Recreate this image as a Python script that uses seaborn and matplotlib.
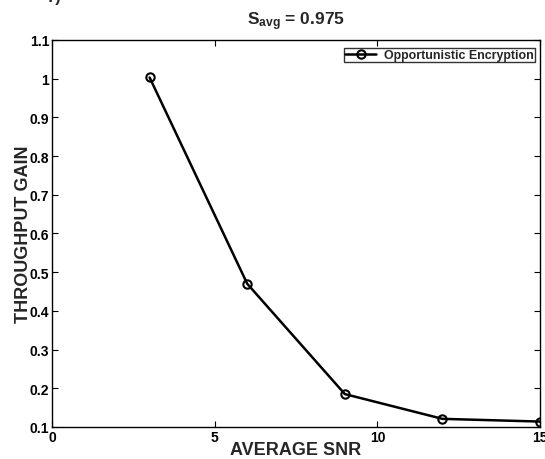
import matplotlib
matplotlib.use("Agg")
import matplotlib.pyplot as plt
import seaborn as sns
import pandas as pd

snr = [3, 6, 9, 12, 15]
gain = [1.003, 0.47, 0.185, 0.121, 0.114]
series_name = "Opportunistic Encryption"
xticks = [0, 5, 10, 15]
yticks = [0.1, 0.2, 0.3, 0.4, 0.5, 0.6, 0.7, 0.8, 0.9, 1.0, 1.1]
ytick_labels = ["0.1", "0.2", "0.3", "0.4", "0.5", "0.6", "0.7", "0.8", "0.9", "1", "1.1"]

sns.set_style("white")
plt.rcParams["font.family"] = ["Liberation Sans", "DejaVu Sans"]
plt.rcParams["font.weight"] = "bold"
plt.rcParams["mathtext.fontset"] = "custom"
plt.rcParams["mathtext.rm"] = "Liberation Sans:bold"
plt.rcParams["mathtext.it"] = "Liberation Sans:bold"
plt.rcParams["mathtext.bf"] = "Liberation Sans:bold"

df = pd.DataFrame({"snr": snr, "gain": gain, "series": series_name})

fig = plt.figure(figsize=(5.45, 4.6), dpi=100)
ax = fig.add_axes([0.0954, 0.0696, 0.8956, 0.8414])

sns.lineplot(data=df, x="snr", y="gain", hue="series", palette=["black"],
             marker="o", markersize=6, markerfacecolor="none",
             markeredgecolor="black", markeredgewidth=1.5, linewidth=1.8, ax=ax)

ax.set_xlim(0, 15)
ax.set_ylim(0.1, 1.1)
ax.set_xticks(xticks)
ax.set_xticklabels([str(t) for t in xticks], fontsize=10, fontweight="bold")
ax.set_yticks(yticks)
ax.set_yticklabels(ytick_labels, fontsize=10, fontweight="bold")
ax.tick_params(direction="in", length=4, width=0.8, top=True, right=True,
               bottom=True, left=True, pad=2, colors="black")
for s in ax.spines.values():
    s.set_color("black")
    s.set_linewidth(1.0)

ax.set_xlabel("AVERAGE SNR", fontsize=13, fontweight="bold", labelpad=-2)
ax.set_ylabel("THROUGHPUT GAIN", fontsize=13, fontweight="bold", labelpad=-2)
ax.set_title(r"S$_{avg}$ = 0.975", fontsize=12.5, fontweight="bold", pad=11)

leg = ax.legend(loc="upper right", fontsize=8.9, frameon=True, fancybox=False,
                handlelength=2.5, borderpad=0.12, borderaxespad=0.3,
                handletextpad=0.6, bbox_to_anchor=(0.997, 0.99))
leg.get_frame().set_edgecolor("black")
leg.get_frame().set_linewidth(1.0)
for t in leg.get_texts():
    t.set_fontweight("bold")

fig.text(0.085, 1.005, "7)", fontsize=12, fontweight="bold", va="center", ha="left")

fig.savefig("out.png", dpi=100)
